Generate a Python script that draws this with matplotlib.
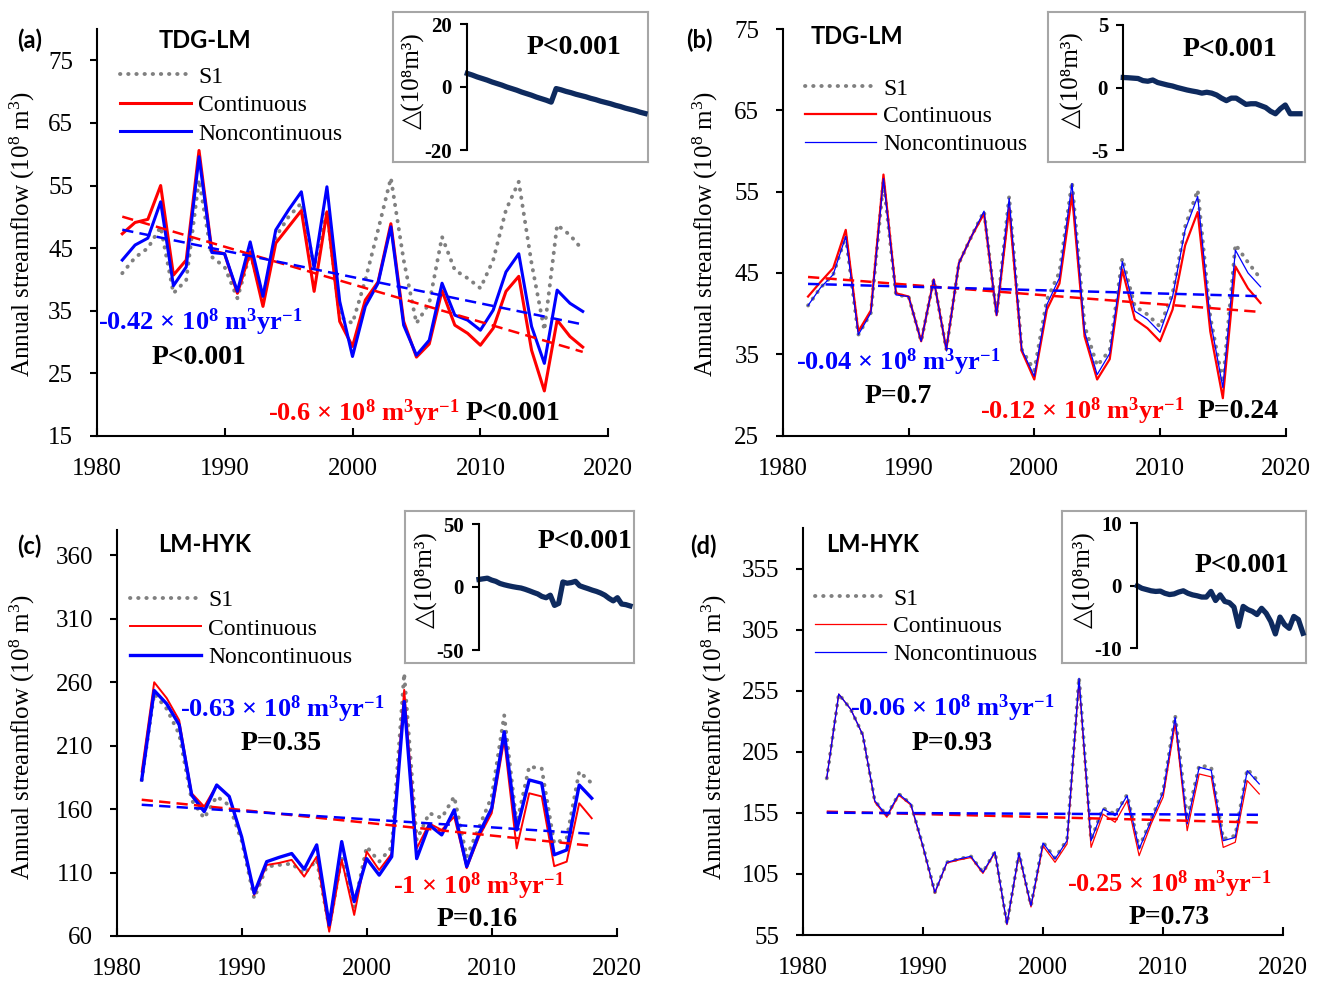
import numpy as np
import matplotlib
matplotlib.use('Agg')
import matplotlib.pyplot as plt

plt.rcParams['font.family'] = ['Liberation Serif', 'DejaVu Sans']
plt.rcParams['mathtext.fontset'] = 'custom'
plt.rcParams['mathtext.rm'] = 'Liberation Serif'
plt.rcParams['mathtext.bf'] = 'Liberation Serif:bold'
plt.rcParams['mathtext.it'] = 'Liberation Serif:italic'
plt.rcParams['axes.unicode_minus'] = False

# ---- data ----
years = np.arange(1982, 2019)

# (a) TDG-LM
a_s1 = [41.0, 43.5, 45.0, 48.4, 37.8, 39.9, 55.9, 43.6, 42.0, 37.0, 44.2, 37.0, 46.8,
        50.0, 52.2, 42.0, 51.0, 34.1, 33.0, 39.9, 47.9, 56.2, 43.1, 33.0, 36.2, 46.8,
        41.5, 40.2, 38.6, 43.1, 51.1, 55.6, 42.6, 31.9, 48.7, 47.1, 44.7]
a_cont = [47.3, 49.1, 49.6, 55.0, 40.7, 43.1, 60.6, 44.6, 44.1, 37.8, 44.4, 35.7, 45.8,
          48.4, 51.0, 38.1, 50.8, 33.3, 29.3, 36.7, 39.6, 48.9, 33.3, 27.6, 29.7, 38.2,
          32.7, 31.4, 29.5, 32.2, 38.1, 40.5, 28.7, 22.2, 33.5, 30.9, 29.2]
a_nonc = [43.1, 45.5, 46.6, 52.4, 39.0, 42.0, 59.6, 44.3, 44.1, 38.1, 46.0, 37.3, 47.9,
          51.1, 54.0, 41.8, 54.8, 36.5, 27.7, 35.7, 39.4, 48.4, 32.7, 27.9, 30.3, 39.4,
          34.3, 33.5, 31.9, 35.1, 41.2, 44.1, 32.5, 26.6, 38.3, 36.2, 34.9]
a_delta = [4.3, 3.8, 3.2, 2.7, 2.2, 1.6, 1.1, 0.6, 0.0, -0.5, -1.0, -1.6, -2.1, -2.6,
           -3.2, -3.7, -4.2, -4.8, -0.5, -0.9, -1.4, -1.8, -2.3, -2.7, -3.1, -3.6, -4.0,
           -4.5, -4.9, -5.3, -5.8, -6.2, -6.7, -7.1, -7.5, -8.0, -8.4]

# (b) TDG-LM
b_s1 = [41.0, 43.2, 44.8, 49.5, 37.4, 40.1, 56.3, 42.3, 42.1, 36.6, 44.2, 35.6, 46.2,
        49.5, 52.6, 39.8, 54.4, 35.6, 33.0, 41.7, 45.1, 56.2, 38.5, 33.6, 35.5, 46.8,
        40.9, 39.9, 38.4, 42.5, 50.7, 55.2, 39.6, 31.5, 48.5, 46.3, 44.3]
b_cont = [42.1, 43.9, 45.6, 50.3, 37.8, 40.4, 57.1, 42.5, 42.1, 36.6, 44.2, 35.6, 46.2,
          49.5, 52.3, 39.8, 53.0, 35.4, 31.9, 40.5, 43.7, 54.6, 37.2, 31.9, 34.4, 45.4,
          39.3, 38.2, 36.6, 40.5, 48.4, 52.5, 37.8, 29.6, 45.8, 43.1, 41.3]
b_nonc = [41.0, 43.2, 44.8, 49.5, 37.4, 40.1, 56.6, 42.3, 42.1, 36.6, 44.2, 35.6, 46.2,
          49.5, 52.6, 39.8, 54.2, 35.6, 32.3, 41.1, 44.4, 56.0, 37.8, 32.5, 35.1, 46.4,
          40.3, 39.3, 37.7, 42.1, 50.3, 54.4, 39.2, 30.9, 47.8, 45.0, 43.3]
b_delta = [0.8, 0.78, 0.75, 0.72, 0.55, 0.5, 0.6, 0.4, 0.3, 0.2, 0.12, 0.0, -0.1, -0.2,
           -0.28, -0.35, -0.45, -0.38, -0.45, -0.6, -0.85, -1.05, -0.85, -0.85, -1.1,
           -1.35, -1.3, -1.3, -1.45, -1.6, -1.9, -2.1, -1.7, -1.4, -2.1, -2.1, -2.1]

# (c) LM-HYK
c_s1 = [183, 251, 239, 219, 167, 152.8, 170, 163, 135, 89.7, 114.7, 116, 117, 109, 120,
        67, 122, 83, 130.4, 118.6, 130, 267, 135.7, 156.8, 153, 169.9, 122.5, 146,
        169.9, 234, 148.7, 193.5, 192, 133, 137, 189.6, 180.4]
c_cont = [189.6, 260, 247.5, 230, 172.5, 162, 179, 170, 138, 92.4, 116, 117.6, 120,
          106.8, 122.5, 63.4, 120, 76.6, 126.5, 112, 125, 254, 129, 148.7, 143.6, 154,
          113.4, 138.3, 156.8, 214.6, 129, 172.5, 170, 115, 118.6, 164.6, 152.8]
c_nonc = [183, 253.5, 243, 226.4, 171, 158, 179, 170, 138, 93.7, 118.6, 122, 125, 112.6,
          131.8, 68.7, 134.4, 87, 121, 108, 122.5, 244.8, 121, 147.5, 139.7, 159.4,
          114.7, 141, 160.7, 221, 143.6, 183, 180.4, 124, 127.8, 179, 168.6]
c_delta = [6, 6.5, 7, 5.5, 4.5, 2.8, 1.8, 1, 0.3, -0.3, -0.8, -1.8, -3, -4.3, -5.5,
           -7.5, -8.5, -6.5, -14.6, -13, 4, 3, 3.5, 4.5, 1, -0.2, -1.3, -2.5, -3.5,
           -4.8, -6.5, -9, -11, -8.5, -13.5, -14, -15]

# (d) LM-HYK
d_s1 = [183.4, 252.5, 240, 219, 165, 152.8, 170.6, 162.4, 128.2, 90, 114.6, 117.3,
        119.5, 106.4, 123.3, 64, 122.2, 79, 131, 118, 133, 266, 133, 159, 154, 170,
        126.5, 150, 173, 235, 150, 194, 192.5, 133.7, 136.4, 191, 180]
d_cont = [183.4, 252.5, 240, 219, 164, 151.5, 169.5, 161.5, 127.5, 89.5, 114, 116.5,
          118.5, 105.5, 122.5, 63.5, 121, 78, 128, 114.6, 129.6, 263, 126.8, 154, 147.4,
          165, 120, 146, 168, 228, 140.5, 187, 184.6, 126.8, 131, 181.5, 170.6]
d_nonc = [183.4, 252.5, 240, 219, 165, 152.8, 170.6, 162.4, 128.2, 90, 114.6, 117.3,
          119.5, 106.4, 123.3, 64, 122.2, 79, 130.4, 117.3, 132.3, 265.4, 132.3, 158.3,
          152.8, 169.2, 125.5, 148.7, 172, 233.4, 146, 192.5, 190, 132.3, 135, 189.7, 178.8]
d_delta = [0, -0.4, -0.6, -0.8, -0.9, -0.85, -1.2, -1.4, -1.3, -1.0, -0.8, -1.2, -1.45,
           -1.6, -1.8, -1.8, -0.9, -2.35, -1.45, -2.5, -2.7, -3.4, -6.5, -3.3, -3.8,
           -4.1, -4.6, -3.6, -4.4, -5.7, -7.7, -5.0, -6.2, -6.8, -4.9, -5.4, -7.6]

trend_text = {'a': ('-0.42', '-0.6', 'P<0.001', 'P<0.001'),
              'b': ('-0.04', '-0.12', 'P=0.7', 'P=0.24'),
              'c': ('-0.63', '-1', 'P=0.35', 'P=0.16'),
              'd': ('-0.06', '-0.25', 'P=0.93', 'P=0.73')}

RED, BLUE, GRAY, NAVY = '#FF0000', '#0000FF', '#808080', '#0E2A5E'
W, H = 1325, 982
fig = plt.figure(figsize=(W / 100, H / 100), dpi=100)


def rect(l, t, r, b):
    return [l / W, 1 - b / H, (r - l) / W, (b - t) / H]


def ftext(x, y, s, **kw):
    fig.text(x / W, 1 - y / H, s, **kw)


def unit(v):
    return v + '$\\mathbf{\\,\\times\\,10^{8}\\ m^{3}yr^{-1}}$'


panels = [
    dict(key='a', site='TDG-LM', pos=(96.7, 29, 608.3, 436), ylim=(15, 80), yt=np.arange(15, 76, 10),
         s1=a_s1, cont=a_cont, nonc=a_nonc, lwc=2.2, lwn=2.2, legxy=(120, 66), lsp=0.3,
         lab=(30, 40), site_xy=(205, 40), ylab=(22, 234),
         bt=(98, 322), bp=(199, 357), rt=(268, 413), rp=(513, 413),
         delta=a_delta, dbox=(393, 12, 648, 162), dax=(467.3, 24, 645, 150), dlim=(-20, 20),
         dyt=[-20, 0, 20], dp=(574, 47), dlab=(413, 81)),
    dict(key='b', site='TDG-LM', pos=(782.9, 29, 1285.7, 435.6), ylim=(25, 75), yt=np.arange(25, 76, 10),
         s1=b_s1, cont=b_cont, nonc=b_nonc, lwc=1.6, lwn=0.9, legxy=(805, 78), lsp=0.26,
         lab=(699, 40), site_xy=(857, 36), ylab=(705, 234),
         bt=(796, 362), bp=(898, 397), rt=(980, 411), rp=(1238, 411),
         delta=b_delta, dbox=(1048, 12, 1305, 162), dax=(1123.3, 25, 1300, 150), dlim=(-5, 5),
         dyt=[-5, 0, 5], dp=(1230, 49), dlab=(1072, 80)),
    dict(key='c', site='LM-HYK', pos=(116.7, 530, 616.7, 936), ylim=(60, 380), yt=np.arange(60, 361, 50),
         s1=c_s1, cont=c_cont, nonc=c_nonc, lwc=1.4, lwn=2.4, legxy=(130, 589.5), lsp=0.3,
         lab=(29, 546), site_xy=(205, 545), ylab=(22, 737),
         bt=(180, 709), bp=(281, 744), rt=(393, 886), rp=(477, 920),
         delta=c_delta, dbox=(405, 511, 634, 663), dax=(479, 524, 630, 650), dlim=(-50, 50),
         dyt=[-50, 0, 50], dp=(585, 541), dlab=(426, 580)),
    dict(key='d', site='LM-HYK', pos=(802.7, 528, 1283.3, 935), ylim=(55, 388.6), yt=np.arange(55, 356, 50),
         s1=d_s1, cont=d_cont, nonc=d_nonc, lwc=0.9, lwn=0.9, legxy=(815, 588), lsp=0.26,
         lab=(703, 546), site_xy=(873, 545), ylab=(714, 737),
         bt=(850, 708), bp=(952, 743), rt=(1067, 884), rp=(1169, 918),
         delta=d_delta, dbox=(1062, 511, 1306, 663), dax=(1137.3, 523.3, 1303, 648.3), dlim=(-10, 10),
         dyt=[-10, 0, 10], dp=(1242, 565), dlab=(1084, 580)),
]

for p in panels:
    ax = fig.add_axes(rect(*p['pos']))
    ax.plot(years, p['s1'], color=GRAY, lw=2.8, linestyle=(0, (0.1, 2.0)),
            dash_capstyle='round', label='S1', zorder=2)
    ax.plot(years, p['cont'], color=RED, lw=p['lwc'], label='Continuous', zorder=3)
    ax.plot(years, p['nonc'], color=BLUE, lw=p['lwn'], label='Noncontinuous', zorder=4)
    # linear trends
    for series, col in ((p['cont'], RED), (p['nonc'], BLUE)):
        k, b0 = np.polyfit(years, series, 1)
        ax.plot(years, k * years + b0, color=col, lw=1.8, linestyle=(0, (4.5, 2.5)), zorder=5)

    ax.set_xlim(1980, 2020)
    ax.set_ylim(*p['ylim'])
    ax.set_xticks(np.arange(1980, 2021, 10))
    ax.set_yticks(p['yt'])
    ax.spines[['top', 'right']].set_visible(False)
    for s in ('left', 'bottom'):
        ax.spines[s].set_linewidth(1.5)
    ax.tick_params(axis='x', direction='in', length=6, width=1.5, pad=16, labelsize=18)
    ax.tick_params(axis='y', direction='out', length=5, width=1.5, pad=12, labelsize=18)
    ax.patch.set_alpha(0)

    ax.legend(loc='upper left', bbox_to_anchor=(p['legxy'][0] / W, 1 - p['legxy'][1] / H),
              bbox_transform=fig.transFigure, frameon=False, fontsize=17,
              handlelength=3.0, handletextpad=0.3, labelspacing=p['lsp'],
              borderpad=0, borderaxespad=0)

    ftext(*p['lab'], '(' + p['key'] + ')', fontsize=17, fontweight='bold',
          family=['Lato', 'DejaVu Sans'], ha='center', va='center')
    ftext(*p['site_xy'], p['site'], fontsize=17, fontweight='bold',
          family=['Lato', 'DejaVu Sans'], ha='center', va='center')
    ftext(*p['ylab'], 'Annual streamflow (10$^{8}$ m$^{3}$)', fontsize=18,
          rotation=90, ha='center', va='center')

    bslope, rslope, bP, rP = trend_text[p['key']]
    ftext(*p['bt'], unit(bslope), color=BLUE, fontsize=19, fontweight='bold', ha='left', va='center')
    ftext(*p['bp'], bP, fontsize=20, fontweight='bold', ha='center', va='center')
    ftext(*p['rt'], unit(rslope), color=RED, fontsize=19, fontweight='bold', ha='left', va='center')
    ftext(*p['rp'], rP, fontsize=20, fontweight='bold', ha='center', va='center')

    # inset with the difference series
    bx = fig.add_axes(rect(*p['dbox']))
    bx.set_xticks([])
    bx.set_yticks([])
    for s in bx.spines.values():
        s.set_color('#A6A6A6')
        s.set_linewidth(1.5)
    ia = fig.add_axes(rect(*p['dax']))
    ia.patch.set_alpha(0)
    ia.plot(years, p['delta'], color=NAVY, lw=3.8, solid_joinstyle='round', clip_on=False)
    ia.set_xlim(1982, 2018)
    ia.set_ylim(*p['dlim'])
    ia.set_xticks([])
    ia.set_yticks(p['dyt'])
    ia.spines[['top', 'right', 'bottom']].set_visible(False)
    ia.spines['left'].set_linewidth(1.5)
    ia.tick_params(axis='y', direction='out', length=5, width=1.5, pad=6, labelsize=15)
    for t in ia.get_yticklabels():
        t.set_fontweight('bold')
    ftext(*p['dp'], 'P<0.001', fontsize=20, fontweight='bold', ha='center', va='center')
    ftext(*p['dlab'], '△(10⁸m³)', fontsize=18, rotation=90, ha='center', va='center',
          family=['Liberation Serif', 'DejaVu Sans'])

fig.savefig('out.png', dpi=100)
